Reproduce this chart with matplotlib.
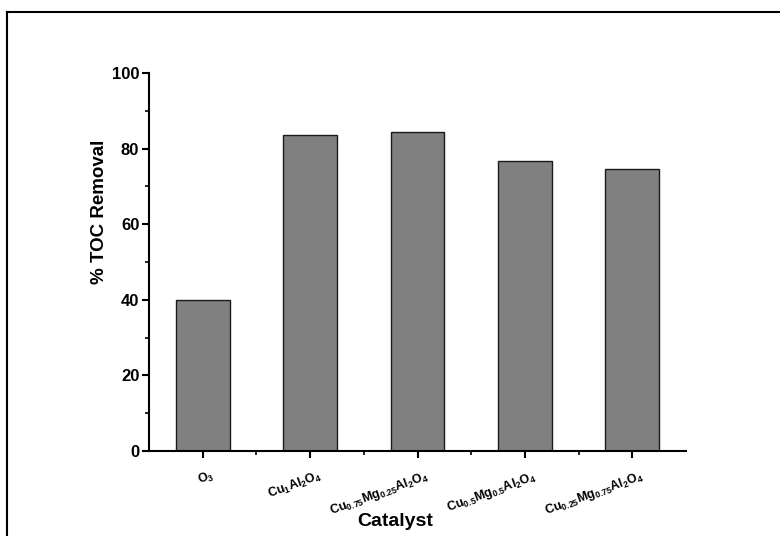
import matplotlib
matplotlib.use("Agg")
import matplotlib.pyplot as plt
from matplotlib.lines import Line2D
from matplotlib.transforms import ScaledTranslation

plt.rcParams['font.family'] = ['Liberation Sans', 'DejaVu Sans']
plt.rcParams['mathtext.fontset'] = 'custom'
plt.rcParams['mathtext.rm'] = 'Liberation Sans:bold'
plt.rcParams['mathtext.bf'] = 'Liberation Sans:bold'
plt.rcParams['mathtext.it'] = 'Liberation Sans:bold'

catalysts = [r'$\mathbf{O_{3}}$',
             r'$\mathbf{Cu_{1}Al_{2}O_{4}}$',
             r'$\mathbf{Cu_{0.75}Mg_{0.25}Al_{2}O_{4}}$',
             r'$\mathbf{Cu_{0.5}Mg_{0.5}Al_{2}O_{4}}$',
             r'$\mathbf{Cu_{0.25}Mg_{0.75}Al_{2}O_{4}}$']
toc_removal = [40.0, 83.7, 84.5, 76.8, 74.7]
y_ticks = [0, 20, 40, 60, 80, 100]

W, H = 780, 536
fig = plt.figure(figsize=(W / 100, H / 100), dpi=100)
ax = fig.add_axes([149 / W, 1 - 451 / H, (686 - 149) / W, (451 - 73) / H])

x = list(range(len(catalysts)))
ax.bar(x, toc_removal, width=0.5, color='#808080', edgecolor='#1a1a1a', linewidth=1.0)

ax.set_xlim(-0.5, 4.5)
ax.set_ylim(0, 100)
ax.set_yticks(y_ticks)
ax.set_yticks(range(10, 100, 20), minor=True)
ax.set_xticks(x)
ax.set_xticks([i + 0.5 for i in x[:-1]], minor=True)

for s in ('top', 'right'):
    ax.spines[s].set_visible(False)
for s in ('left', 'bottom'):
    ax.spines[s].set_linewidth(1.5)

ax.tick_params(axis='both', which='major', direction='out', length=5, width=1.5)
ax.tick_params(axis='both', which='minor', direction='out', length=3, width=1.2)
ax.tick_params(axis='y', labelsize=12, pad=2)
for lbl in ax.get_yticklabels():
    lbl.set_fontweight('bold')

ax.set_xticklabels(catalysts, fontsize=9, rotation=20, ha='right',
                   rotation_mode='anchor')
shift = ScaledTranslation(6 / 72, -4 / 72, fig.dpi_scale_trans)
for lbl in ax.get_xticklabels():
    lbl.set_transform(lbl.get_transform() + shift)

fig.text(100 / W, 1 - 212 / H, '% TOC Removal', rotation=90, fontsize=13.5,
         fontweight='bold', ha='center', va='center')
fig.text(395 / W, 1 - 522 / H, 'Catalyst', fontsize=14,
         fontweight='bold', ha='center', va='center')

# page frame lines on the left and top edges
fig.add_artist(Line2D([6.5 / W, 6.5 / W], [0, 1 - 12 / H], transform=fig.transFigure,
                      color='black', linewidth=1.5, solid_capstyle='projecting'))
fig.add_artist(Line2D([6.5 / W, 1], [1 - 12 / H, 1 - 12 / H], transform=fig.transFigure,
                      color='black', linewidth=1.5, solid_capstyle='projecting'))

fig.savefig('out.png', dpi=100)
